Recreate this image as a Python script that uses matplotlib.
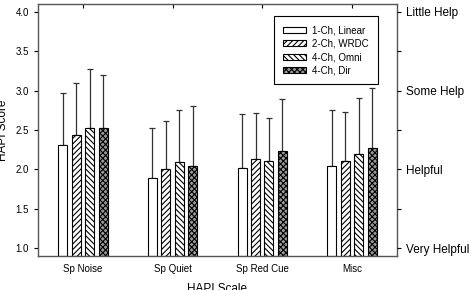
import numpy as np
import matplotlib
matplotlib.use("Agg")
import matplotlib.pyplot as plt

plt.rcParams['font.family'] = ['Liberation Sans', 'DejaVu Sans']
plt.rcParams['hatch.linewidth'] = 0.8

categories = ['Sp Noise', 'Sp Quiet', 'Sp Red Cue', 'Misc']
series = ['1-Ch, Linear', '2-Ch, WRDC', '4-Ch, Omni', '4-Ch, Dir']
# mean HAPI score per condition
means = [
    [2.31, 1.89, 2.02, 2.04],
    [2.44, 2.01, 2.13, 2.11],
    [2.52, 2.09, 2.11, 2.20],
    [2.52, 2.05, 2.24, 2.27],
]
# top of the error bar
tops = [
    [2.97, 2.53, 2.71, 2.75],
    [3.10, 2.62, 2.72, 2.73],
    [3.27, 2.75, 2.65, 2.91],
    [3.20, 2.81, 2.90, 3.03],
]
right_labels = ['Very Helpful', 'Helpful', 'Some Help', 'Little Help']

hatches = ['', '//////', '\\\\\\\\\\\\', 'xxxxxx']
faces = ['white', 'white', 'white', '#9a9a9a']

fig = plt.figure(figsize=(4.69, 2.90), dpi=100)
ax = fig.add_axes([0.081, 0.117, 0.765, 0.869])

x = np.arange(len(categories))
w = 0.1
offs = [-0.225, -0.075, 0.075, 0.225]
for i in range(4):
    m = np.array(means[i])
    err = np.array(tops[i]) - m
    ax.bar(x + offs[i], m - 0.9, w, bottom=0.9, color=faces[i], edgecolor='black',
           hatch=hatches[i], linewidth=0.8, label=series[i], zorder=2)
    ax.errorbar(x + offs[i], m, yerr=[np.zeros(4), err], fmt='none',
                ecolor='#333333', elinewidth=0.9, capsize=2.5, capthick=0.9, zorder=1)

ax.set_xlim(-0.5, 3.5)
ax.set_ylim(0.9, 4.1)
ax.set_yticks(np.arange(1.0, 4.01, 0.5))
ax.set_yticklabels(['%.1f' % v for v in np.arange(1.0, 4.01, 0.5)], fontsize=7)
ax.set_xticks(x)
ax.set_xticklabels(categories, fontsize=7)
ax.tick_params(axis='x', bottom=False, top=True, direction='in', length=3, pad=6)
ax.tick_params(axis='y', length=3, width=0.8)
for s in ax.spines.values():
    s.set_color('#555555')
    s.set_linewidth(1.0)

ax.set_ylabel('HAPI Score', fontsize=8.5, labelpad=5)
ax.set_xlabel('HAPI Scale', fontsize=8.5, labelpad=6)

ax2 = ax.twinx()
ax2.set_ylim(0.9, 4.1)
ax2.set_yticks(np.arange(1.0, 4.01, 0.5))
ax2.set_yticklabels(['Very Helpful', '', 'Helpful', '', 'Some Help', '', 'Little Help'],
                    fontsize=8.5)
ax2.tick_params(axis='y', length=3, width=0.8)
for s in ax2.spines.values():
    s.set_visible(False)

leg = ax.legend(loc='upper right', bbox_to_anchor=(0.96, 0.97), fontsize=7,
                fancybox=False, edgecolor='black', framealpha=1,
                handlelength=2.4, handleheight=0.55, handletextpad=0.6,
                labelspacing=0.35, borderpad=0.9)
leg.get_frame().set_linewidth(0.8)

fig.savefig('out.png', dpi=100)
